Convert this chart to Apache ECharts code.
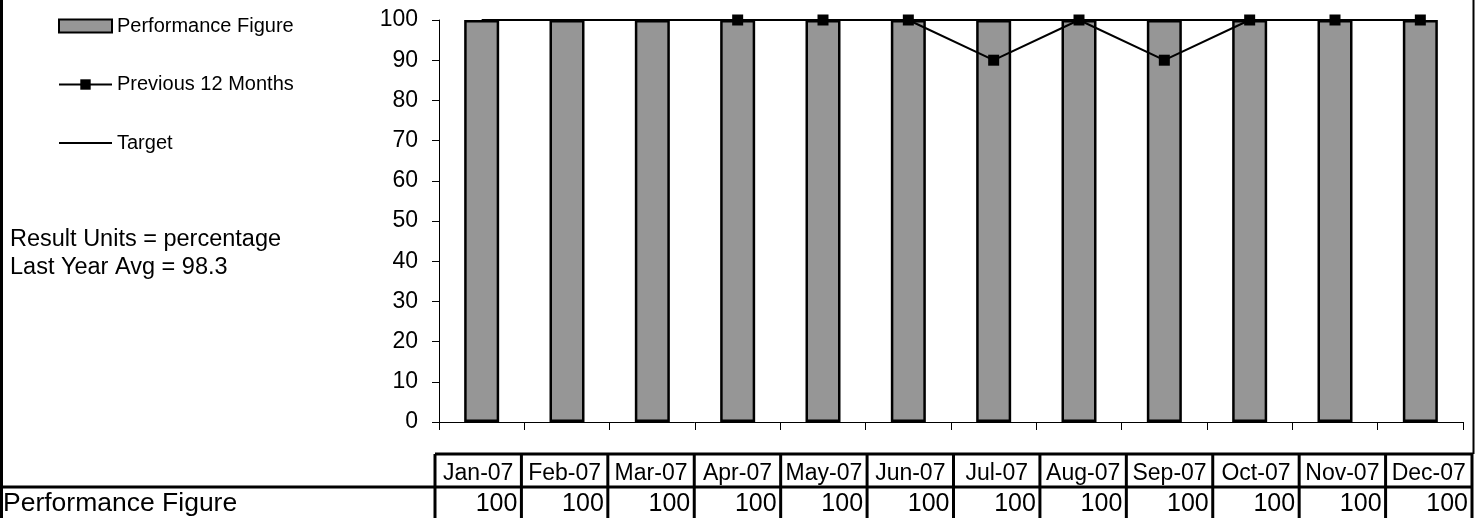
<!DOCTYPE html>
<html><head><meta charset="utf-8">
<script src="https://cdn.jsdelivr.net/npm/echarts@6/dist/echarts.min.js"></script>
<style>html,body{margin:0;padding:0;background:#fff}#c{width:1476px;height:518px}</style>
</head><body><div id="c"></div>
<script>
const categories = ['Jan-07','Feb-07','Mar-07','Apr-07','May-07','Jun-07','Jul-07','Aug-07','Sep-07','Oct-07','Nov-07','Dec-07'];
const performance = [100,100,100,100,100,100,100,100,100,100,100,100];
const previous12 = [null,null,null,100,100,100,90,100,90,100,100,100];
const target = [100,100,100,100,100,100,100,100,100,100,100,100];
const tableRowLabel = 'Performance Figure';
const notes = ['Result Units = percentage','Last Year Avg = 98.3'];

const FONT = '"Liberation Sans", Arial, Helvetica, sans-serif';
const chart = echarts.init(document.getElementById('c'), null, {renderer:'canvas'});
chart.setOption({
  animation:false,
  backgroundColor:'#fff',
  textStyle:{fontFamily:FONT},
  grid:{left:439, right:13, top:20, bottom:96, containLabel:false},
  legend:{orient:'vertical', left:58, top:16, padding:0, itemWidth:53, itemHeight:13, itemGap:38.5,
    textStyle:{fontSize:20,color:'#000',fontFamily:FONT},
    lineStyle:{width:2},
    data:[
      {name:'Performance Figure', icon:'rect'},
      {name:'Previous 12 Months'},
      {name:'Target', itemStyle:{opacity:0}}
    ]},
  xAxis:{type:'category', data:categories,
    axisLine:{lineStyle:{color:'#000',width:1}},
    axisTick:{show:true,length:8,interval:0,lineStyle:{color:'#000'}},
    axisLabel:{show:false}, splitLine:{show:false}},
  yAxis:{type:'value',min:0,max:100,interval:10,
    axisLine:{show:true,lineStyle:{color:'#000'}},
    axisTick:{show:true,length:7,lineStyle:{color:'#000'}},
    axisLabel:{fontSize:23,color:'#000',margin:21,fontFamily:FONT},
    splitLine:{show:false}},
  series:[
    {name:'Performance Figure', type:'bar', data:performance, barWidth:35,
      itemStyle:{color:'#969696', borderColor:'#000', borderWidth:2.5}, z:2},
    {name:'Target', type:'line', data:target, symbol:'none',
      lineStyle:{color:'#000',width:2}, itemStyle:{color:'#000'}, z:3},
    {name:'Previous 12 Months', type:'line', data:previous12, symbol:'rect', symbolSize:11,
      showAllSymbol:true, lineStyle:{color:'#000',width:2}, itemStyle:{color:'#000'}, z:4}
  ]
});

const n = categories.length;
const c0 = chart.convertToPixel({xAxisIndex:0}, 0);
const c1 = chart.convertToPixel({xAxisIndex:0}, 1);
const band = c1 - c0;
const axisStart = c0 - band/2;
const axisEnd = axisStart + band*n;
const tLeft = axisStart - 4, tRight = axisEnd + 9;
const colW = (tRight - tLeft)/n;
const tTop = 454, tMid = 487, tBot = 520;
const L = (x1,y1,x2,y2,w) => ({type:'line', shape:{x1,y1,x2,y2}, style:{stroke:'#000', lineWidth:w||3}, z:10});
const g = [];
g.push(L(1.5,0,1.5,518,3));
g.push(L(1473.5,0,1473.5,tTop,2));
g.push(L(0,tMid,tLeft,tMid,3));
g.push(L(tLeft,tTop,tRight+1,tTop,3));
g.push(L(tLeft,tMid,tRight,tMid,3));
for (let i=0;i<=n;i++){
  const x = tLeft + i*colW;
  g.push(L(x,tTop,x,tBot,3));
}
categories.forEach((c,i)=>{
  g.push({type:'text', style:{text:c, x:tLeft+(i+0.5)*colW, y:473.5, align:'center', verticalAlign:'middle', font:'23px '+FONT, fill:'#000'}, z:11});
  g.push({type:'text', style:{text:String(performance[i]), x:tLeft+(i+1)*colW-4, y:504.5, align:'right', verticalAlign:'middle', font:'25px '+FONT, fill:'#000'}, z:11});
});
g.push({type:'text', style:{text:tableRowLabel, x:3, y:503.5, align:'left', verticalAlign:'middle', font:'26.5px '+FONT, fill:'#000'}, z:11});
g.push({type:'text', style:{text:notes[0], x:10, y:240, align:'left', verticalAlign:'middle', font:'23.5px '+FONT, fill:'#000'}, z:11});
g.push({type:'text', style:{text:notes[1], x:10, y:268, align:'left', verticalAlign:'middle', font:'23.5px '+FONT, fill:'#000'}, z:11});
chart.setOption({graphic:g});
</script></body></html>
